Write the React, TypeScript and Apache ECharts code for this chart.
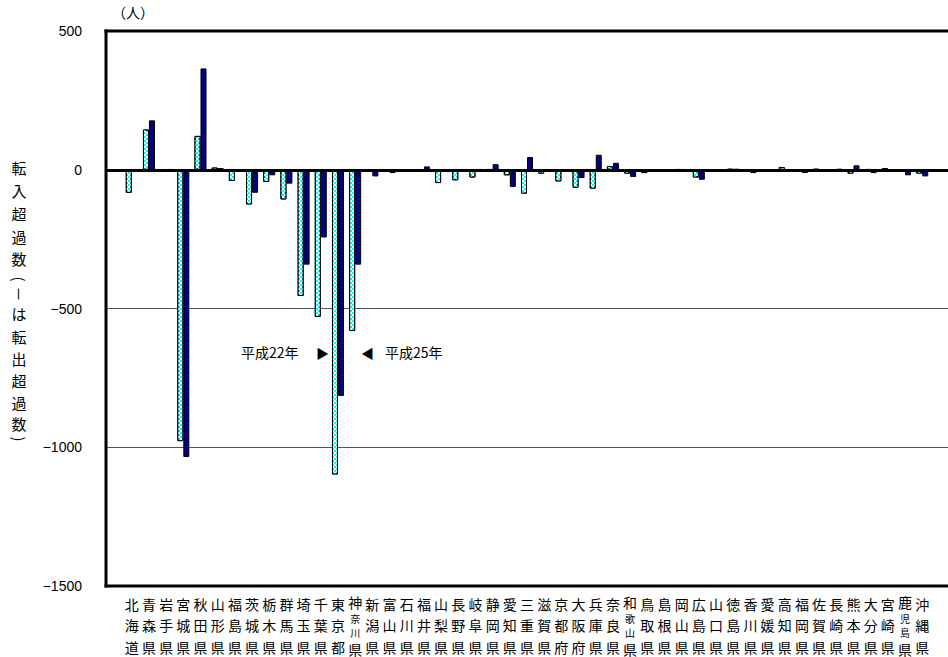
import React, { useEffect, useRef } from "react";
import * as echarts from "echarts";

const prefectures = [
  "北海道", "青森県", "岩手県", "宮城県", "秋田県", "山形県", "福島県", "茨城県", "栃木県", "群馬県",
  "埼玉県", "千葉県", "東京都", "神奈川県", "新潟県", "富山県", "石川県", "福井県", "山梨県", "長野県",
  "岐阜県", "静岡県", "愛知県", "三重県", "滋賀県", "京都府", "大阪府", "兵庫県", "奈良県", "和歌山県",
  "鳥取県", "島根県", "岡山県", "広島県", "山口県", "徳島県", "香川県", "愛媛県", "高知県", "福岡県",
  "佐賀県", "長崎県", "熊本県", "大分県", "宮崎県", "鹿児島県", "沖縄県",
];

const h22Values = [
  -83, 145, -2, -978, 122, 8, -40, -125, -44, -107,
  -455, -530, -1098, -581, -8, -3, -4, 0, -48, -38,
  -28, 2, -20, -86, -14, -42, -65, -68, 13, -14,
  -12, -4, 2, -28, -6, 3, -5, -6, 10, -3,
  3, -3, -14, 2, 6, -6, -14,
];

const h25Values = [
  -2, 178, 2, -1035, 365, 6, -3, -83, -20, -50,
  -342, -244, -815, -342, -24, -12, 0, 12, -2, -8,
  2, 20, -62, 46, -2, -2, -30, 54, 25, -26,
  -4, -2, -2, -36, -6, 3, -12, -4, -3, -12,
  -5, 3, 16, -12, -3, -20, -24,
];

const yTicks = { min: -1500, max: 500, interval: 500 };
const seriesNames = ["平成22年", "平成25年"];
const yAxisNameChars = ["転", "入", "超", "過", "数", "(", "－", "は", "転", "出", "超", "過", "数", ")"];
const yAxisNameY = [167, 190, 213, 236, 258, 279, 294, 313, 336, 358, 380, 402, 423, 439];

const CJK = "'Noto Sans CJK JP', sans-serif";

export default function App() {
  const ref = useRef<HTMLDivElement>(null);

  useEffect(() => {
    if (!ref.current) return;
    const chart = echarts.init(ref.current, undefined, { renderer: "svg" });
    const xData = ["", ...prefectures, ""];
    const d22 = [null, ...h22Values, null];
    const d25 = [null, ...h25Values, null];

    const L = 106, T = 31, W = 862.4, H = 555;
    const borderLine = (x1: number, y1: number, x2: number, y2: number) => ({
      type: "line",
      z: 100,
      silent: true,
      shape: { x1, y1, x2, y2 },
      style: { stroke: "#000", lineWidth: 3 },
    });

    const graphics: any[] = [
      borderLine(L, T - 1.5, L, T + H + 1.5),
      borderLine(L - 1.5, T, L + W, T),
      borderLine(L - 1.5, T + H, L + W, T + H),
      {
        type: "text",
        x: 112,
        y: 12,
        style: { text: "（人）", fontSize: 14, fontFamily: CJK, fill: "#000", verticalAlign: "middle" },
      },
      {
        type: "text",
        x: 241,
        y: 352,
        style: { text: "平成22年", fontSize: 14, fontFamily: CJK, fill: "#000", verticalAlign: "middle" },
      },
      {
        type: "text",
        x: 316,
        y: 352,
        style: { text: "▶", fontSize: 13, fontFamily: CJK, fill: "#000", verticalAlign: "middle" },
      },
      {
        type: "text",
        x: 361,
        y: 352,
        style: { text: "◀", fontSize: 13, fontFamily: CJK, fill: "#000", verticalAlign: "middle" },
      },
      {
        type: "text",
        x: 385,
        y: 352,
        style: { text: "平成25年", fontSize: 14, fontFamily: CJK, fill: "#000", verticalAlign: "middle" },
      },
    ];
    yAxisNameChars.forEach((c, i) => {
      const rotated = c === "(" || c === ")" || c === "－";
      graphics.push({
        type: "group",
        x: 19,
        y: yAxisNameY[i],
        rotation: rotated ? -Math.PI / 2 : 0,
        children: [
          {
            type: "text",
            x: 0,
            y: 0,
            style: {
              text: c,
              fontSize: 15,
              fontFamily: CJK,
              fill: "#000",
              align: "center",
              verticalAlign: "middle",
            },
          },
        ],
      });
    });

    chart.setOption({
      animation: false,
      backgroundColor: "#fff",
      grid: { left: L, top: T, width: W, height: H, show: false },
      xAxis: {
        type: "category",
        data: xData,
        position: "bottom",
        axisLine: { show: false, onZero: false },
        axisTick: { show: false },
        splitLine: { show: false },
        axisLabel: {
          interval: 0,
          margin: 7,
          color: "#000",
          formatter: (name: string) => {
            if (!name) return "";
            const ch = Array.from(name);
            if (ch.length === 4) {
              return `{b|${ch[0]}}\n{s|${ch[1]}}\n{s|${ch[2]}}\n{b|${ch[3]}}`;
            }
            return ch.map((c) => `{a|${c}}`).join("\n");
          },
          rich: {
            a: { fontSize: 14, lineHeight: 21.5, fontFamily: CJK, color: "#000" },
            b: { fontSize: 14, lineHeight: 18, fontFamily: CJK, color: "#000" },
            s: { fontSize: 10, lineHeight: 14.25, fontFamily: CJK, color: "#000" },
          },
        },
      },
      yAxis: {
        type: "value",
        min: yTicks.min,
        max: yTicks.max,
        interval: yTicks.interval,
        axisLine: { show: false },
        axisTick: { show: false },
        splitLine: { show: true, lineStyle: { color: "#555", width: 1 } },
        axisLabel: {
          margin: 24,
          color: "#000",
          fontSize: 14,
          fontFamily: "'Liberation Sans', Arial, sans-serif",
          formatter: (v: number) => String(v).replace("-", "−"),
        },
      },
      graphic: graphics,
      series: [
        {
          name: seriesNames[0],
          type: "bar",
          data: d22,
          barWidth: 6,
          barGap: "0%",
          itemStyle: {
            color: "#00FFFF",
            borderColor: "#000",
            borderWidth: 1,
            decal: {
              symbol: "rect",
              symbolSize: 1,
              color: "#ffffff",
              dashArrayX: [[2, 2], [0, 2, 2, 0]],
              dashArrayY: [2, 0],
              rotation: 0,
            },
          },
        },
        {
          name: seriesNames[1],
          type: "bar",
          data: d25,
          barWidth: 6,
          barGap: "0%",
          itemStyle: { color: "#000080", borderColor: "#000", borderWidth: 1 },
          markLine: {
            silent: true,
            symbol: ["none", "none"],
            label: { show: false },
            lineStyle: { color: "#000", width: 3, type: "solid" },
            data: [{ yAxis: 0 }],
          },
        },
      ],
    });
    return () => chart.dispose();
  }, []);

  return (
    <div
      ref={ref}
      style={{ position: "fixed", left: 0, top: 0, width: 948, height: 657, background: "#fff" }}
    />
  );
}
